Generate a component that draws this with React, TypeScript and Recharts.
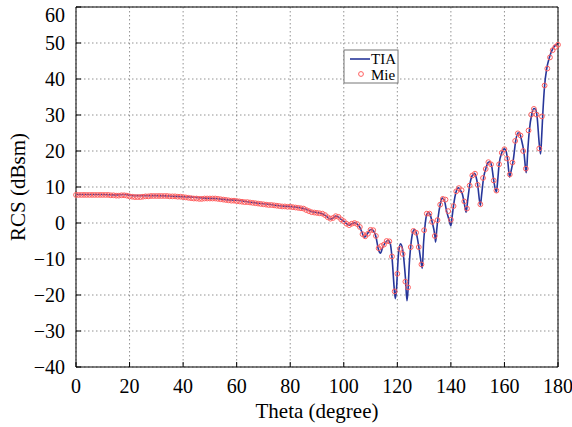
import React from 'react';
import { LineChart, Line, XAxis, YAxis, CartesianGrid } from 'recharts';

const xTicks = [0, 20, 40, 60, 80, 100, 120, 140, 160, 180];
const yTicks = [-40, -30, -20, -10, 0, 10, 20, 30, 40, 50, 60];

const tiaTheta = [
  0, 5, 10, 15, 18, 22, 26, 30, 35, 40, 44, 48, 52, 56, 60, 64, 68, 72, 76, 80, 84, 86, 88, 90, 92, 94, 95, 96, 97, 98, 99,
  100, 101, 102, 103, 104, 105, 106, 107, 107.5, 108, 109, 110, 111, 112, 113, 113.7, 114.5, 115.5, 116.5, 117.3, 118, 119,
  119.3, 119.8, 120, 120.5, 121.2, 122, 123, 123.6, 124, 124.5, 125, 125.8, 126.4, 127, 128, 129, 129.3, 129.8, 130.2, 131,
  131.6, 132.2, 133, 134, 134.3, 134.7, 135.2, 136, 136.8, 137.5, 138.4, 139.3, 140, 140.5, 141, 142, 142.8, 143.6, 144.3,
  145, 145.7, 146.3, 147, 148, 148.8, 149.5, 150, 151, 151.5, 152.2, 153, 154, 154.7, 155.3, 156, 157, 157.5, 158, 159, 160,
  160.5, 161.2, 161.9, 162.5, 163.3, 164.2, 165, 165.6, 166.3, 167.3, 168, 168.2, 168.7, 169.3, 170.2, 171, 171.6, 172.2,
  173, 173.5, 173.9, 174.3, 175, 175.8, 176.8, 177.8, 178.6, 179.5, 180,
];
const tiaRcs = [
  7.9, 7.9, 7.9, 7.8, 7.9, 7.6, 7.6, 7.6, 7.5, 7.3, 7.2, 6.9, 6.8, 6.5, 6.3, 5.9, 5.5, 5.2, 4.8, 4.6, 4.2, 3.8, 3.2, 2.9, 2.6, 1.6, 1.1, 1.4, 1.9, 1.7, 1.0,
  0.5, -0.2, -0.6, -0.2, 0.1, -0.3, -1.2, -3.0, -3.9, -3.8, -2.8, -1.8, -2.1, -3.8, -7.5, -8.4, -6.8, -5.5, -4.8, -5.5, -9.5, -19.5,
  -21, -17, -14, -8, -5.8, -7.5, -15, -21.6, -18.5, -11, -6.5, -2.5, -1.8, -2.6, -6.5, -11.5, -12.6, -5.5, -1.8, 2.4,
  2.9, 2.4, 0.3, -3.4, -5.3, -2, 1.4, 5.1, 6.9, 6.4, 3.3, 0.9, -0.8, 2, 4.9, 8.8, 9.8, 9.0, 8.0,
  5.5, 3.0, 6.5, 10.4, 13.2, 13.8, 12.5, 10.6, 4.9, 8, 12.5, 15, 16.9, 17.0, 15.5, 11.8, 8.6, 12, 16.3, 19.5, 20.6,
  20.2, 17.5, 12.8, 14.5, 17.5, 22.8, 25, 25, 23.3, 19.5, 14.5, 14, 20, 25.7, 30.2, 31.8, 31.6, 29.5,
  22, 19.2, 24, 30, 38.2, 42.9, 46, 48, 49, 49.6, 50,
];

const mieTheta = Array.from({ length: 181 }, (_, i) => i);
const mieRcs = [
  7.8, 7.8, 7.8, 7.8, 7.8, 7.8, 7.8, 7.8, 7.8, 7.8,
  7.8, 7.8, 7.8, 7.7, 7.7, 7.6, 7.6, 7.7, 7.7, 7.6,
  7.4, 7.3, 7.2, 7.2, 7.2, 7.3, 7.4, 7.4, 7.5, 7.5,
  7.5, 7.5, 7.5, 7.5, 7.5, 7.4, 7.4, 7.4, 7.3, 7.3,
  7.2, 7.1, 7.0, 6.9, 6.8, 6.8, 6.7, 6.7, 6.8, 6.8,
  6.8, 6.8, 6.8, 6.7, 6.6, 6.5, 6.4, 6.3, 6.2, 6.2,
  6.1, 6.0, 5.9, 5.8, 5.8, 5.7, 5.6, 5.5, 5.4, 5.3,
  5.2, 5.1, 5.0, 5.0, 4.9, 4.8, 4.7, 4.6, 4.6, 4.5,
  4.5, 4.4, 4.3, 4.2, 4.1, 4.0, 3.6, 3.3, 3.0, 2.9,
  2.8, 2.7, 2.6, 2.2, 1.6, 1.2, 1.4, 1.9, 1.7, 1.0,
  0.5, -0.2, -0.6, -0.2, 0.0, -0.3, -1.1, -3.1, -3.7, -3.0,
  -1.9, -2.0, -3.6, -7.0, -6.4, -6.0, -5.0, -5.1, -9.3, -19.0,
  -14.1, -7.2, -8.6, -16.3, -17.9, -6.7, -2.2, -2.7, -6.7, -11.5,
  -2.0, 2.6, 2.6, 0.3, -3.6, 0.8, 5.1, 6.7, 6.5, 3.3,
  0.9, 4.7, 8.8, 9.7, 9.1, 6.0, 4.0, 10.4, 13.2, 13.7,
  10.6, 5.2, 12.5, 15.0, 16.9, 16.3, 11.8, 9.0, 16.3, 19.5,
  20.5, 17.9, 13.5, 16.8, 22.8, 24.9, 24.3, 20.0, 15.1, 25.7,
  30.1, 31.7, 30.1, 20.7, 29.6, 38.2, 42.9, 46.0, 48.0, 48.9,
  49.5,
];

const tiaData = tiaTheta.map((t, i) => ({ theta: t, tia: tiaRcs[i] }));
const mieData = mieTheta.map((t, i) => ({ theta: t, mie: mieRcs[i] }));

const FONT = '"Liberation Serif", serif';
const BLUE = '#27369a';
const RED = '#ff5f5f';
const txt: React.CSSProperties = { fontFamily: FONT, fontWeight: 400 };

const fmt = (v: number) => (v < 0 ? '\u2212' + Math.abs(v) : String(v));
const blank = () => '';

const XTick = (props: any) => {
  const { x, y, payload } = props;
  return (
    <text x={x} y={y} dy="0.71em" textAnchor="middle" style={txt} fontSize={20} fill="#000">
      {fmt(payload.value)}
    </text>
  );
};

const YTick = (props: any) => {
  const { x, y, payload } = props;
  const yy = Math.max(y, 15);
  return (
    <text x={x} y={yy} dy="0.355em" textAnchor="end" style={txt} fontSize={20} fill="#000">
      {fmt(payload.value)}
    </text>
  );
};

const YLabel = (props: any) => {
  const vb = props.viewBox || { x: 0, y: 0, height: 0 };
  const x = 18;
  const y = vb.y + vb.height / 2;
  return (
    <text x={x} y={y} transform={`rotate(-90, ${x}, ${y})`} textAnchor="middle" dominantBaseline="central"
      style={txt} fontSize={21} fill="#000">RCS (dBsm)</text>
  );
};

const XLabel = (props: any) => {
  const vb = props.viewBox || { x: 0, y: 0, width: 0 };
  const x = vb.x + vb.width / 2;
  return (
    <text x={x} y={418} textAnchor="middle" style={txt} fontSize={21} fill="#000">Theta (degree)</text>
  );
};

export default function App() {
  return (
    <div style={{ position: 'absolute', left: 0, top: 0, width: 572, height: 427, background: '#fff' }}>
      <LineChart width={572} height={427} margin={{ top: 6, right: 13, bottom: 0, left: 0 }} style={txt}>
        <CartesianGrid xAxisId="b" yAxisId="l" stroke="#777" strokeDasharray="1.5 2.5" strokeWidth={0.8} />
        <XAxis xAxisId="b" dataKey="theta" type="number" domain={[0, 180]} ticks={xTicks} height={60}
          allowDuplicatedCategory={false}
          tickSize={-5} tickMargin={17} tick={<XTick />} stroke="#000" tickLine={{ stroke: '#000' }}
          axisLine={{ stroke: '#000' }} label={<XLabel />} />
        <XAxis xAxisId="t" orientation="top" dataKey="theta" type="number" domain={[0, 180]} ticks={xTicks} height={1}
          allowDuplicatedCategory={false}
          tickSize={-5} tickFormatter={blank} stroke="#000" tickLine={{ stroke: '#000' }} axisLine={{ stroke: '#000' }} />
        <YAxis yAxisId="l" type="number" domain={[-40, 60]} ticks={yTicks} width={76} tickSize={-5} tickMargin={16}
          tick={<YTick />} stroke="#000" tickLine={{ stroke: '#000' }} axisLine={{ stroke: '#000' }} label={<YLabel />} />
        <YAxis yAxisId="r" orientation="right" type="number" domain={[-40, 60]} ticks={yTicks} width={1} tickSize={-5}
          tickFormatter={blank} stroke="#000" tickLine={{ stroke: '#000' }} axisLine={{ stroke: '#000' }} />
        <Line xAxisId="b" yAxisId="l" data={tiaData} dataKey="tia" type="monotone" stroke={BLUE} strokeWidth={1.6}
          dot={false} isAnimationActive={false} />
        <Line xAxisId="b" yAxisId="l" data={mieData} dataKey="mie" stroke="none"
          dot={{ r: 2.4, stroke: RED, strokeWidth: 1, fill: '#fff', fillOpacity: 0 }} activeDot={false}
          isAnimationActive={false} />
      </LineChart>
      <svg width={56} height={36} style={{ position: 'absolute', left: 343, top: 49 }}>
        <rect x={1} y={1} width={54} height={33} fill="#fff" stroke="#777" strokeWidth={1} />
        <line x1={7} y1={10} x2={27} y2={10} stroke={BLUE} strokeWidth={1.6} />
        <circle cx={18} cy={25} r={2.4} stroke={RED} strokeWidth={1} fill="none" />
        <text x={28} y={15} style={txt} fontSize={15} fill="#000">TIA</text>
        <text x={28} y={31} style={txt} fontSize={15} fill="#000">Mie</text>
      </svg>
    </div>
  );
}
